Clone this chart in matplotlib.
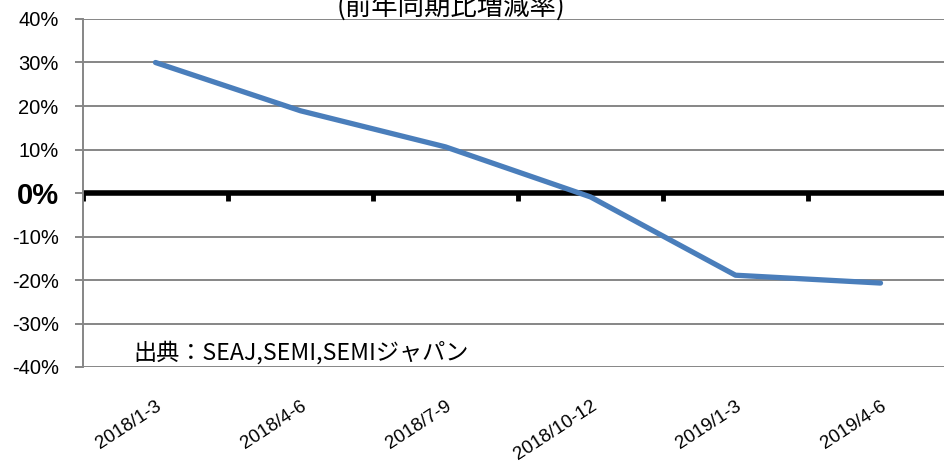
import matplotlib.pyplot as plt

plt.rcParams['font.family'] = ['Liberation Sans', 'Noto Sans CJK JP', 'DejaVu Sans']

quarters = ['2018/1-3', '2018/4-6', '2018/7-9', '2018/10-12', '2019/1-3', '2019/4-6']
growth = [30.0, 18.9, 10.6, -0.9, -18.9, -20.7]  # percent
yticks = [40, 30, 20, 10, 0, -10, -20, -30, -40]

fig = plt.figure(figsize=(9.44, 4.66), dpi=100)
ax = fig.add_axes([83 / 944, 1 - 367 / 466, 870 / 944, 348 / 466])

x = list(range(len(quarters)))
ax.plot(x, growth, color='#4a7ebb', lw=3.8, solid_capstyle='round', zorder=3)

ax.set_xlim(-0.5, len(quarters) - 0.5)
ax.set_ylim(-40, 40)

# grid lines (0% is drawn separately, thick black)
for v in yticks:
    if v != 0:
        ax.axhline(v, color='#868686', lw=1.4, zorder=1)
ax.axhline(0, color='black', lw=4, zorder=2)
# category boundary ticks below the zero line
for b in [i - 0.5 for i in range(len(quarters) + 1)]:
    ax.plot([b, b], [0, -1.8], color='black', lw=3.5, solid_capstyle='butt', zorder=2)

for s in ['top', 'right', 'bottom']:
    ax.spines[s].set_visible(False)
ax.spines['left'].set_color('#868686')
ax.spines['left'].set_linewidth(1.4)

ax.set_yticks(yticks)
ax.set_yticklabels(['%d%%' % v for v in yticks])
ax.tick_params(axis='y', length=5.5, color='#868686', width=1.4, pad=12, labelsize=14.5)
for lab in ax.get_yticklabels():
    if lab.get_text() == '0%':
        lab.set_fontsize(21)
        lab.set_fontweight('bold')

ax.set_xticks(x)
ax.set_xticklabels(quarters, rotation=33, ha='right', rotation_mode='anchor')
ax.tick_params(axis='x', length=0, pad=22, labelsize=13.5)

ax.text(2.04, 40.9, '(前年同期比増減率)', ha='center', va='baseline', fontsize=19,
        family=['Noto Sans CJK JP', 'DejaVu Sans'])
ax.text(-0.155, -36.8, '出典：SEAJ,SEMI,SEMIジャパン', ha='left', va='center', fontsize=16.7,
        family=['Noto Sans CJK JP', 'DejaVu Sans'])

fig.savefig('out.png', dpi=100)
